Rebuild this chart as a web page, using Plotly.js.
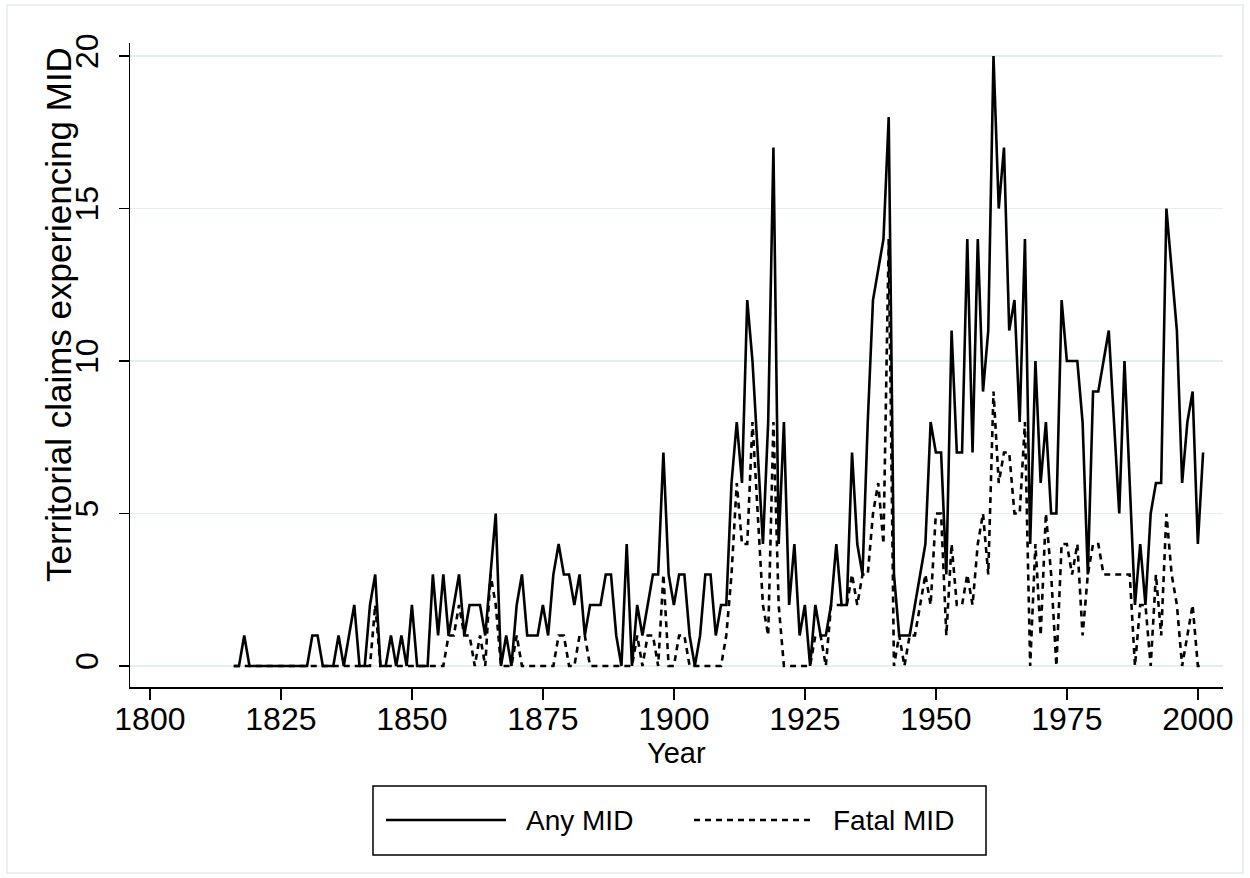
<!DOCTYPE html>
<html>
<head>
<meta charset="utf-8">
<script src="https://cdn.plot.ly/plotly-3.0.1.min.js"></script>
<style>
html,body{margin:0;padding:0;background:#fff;}
#chart{width:1250px;height:878px;}
</style>
</head>
<body>
<div id="chart"></div>
<script>
// ---- data (1816-2001) ----
var startYear = 1816;
var anyMID = [
  0,0,1,0,
  0,0,0,0,0,0,0,0,0,0,
  0,1,1,0,0,0,1,0,1,2,
  0,0,2,3,0,0,1,0,1,0,
  2,0,0,0,3,1,3,1,2,3,
  1,2,2,2,1,3,5,0,1,0,
  2,3,1,1,1,2,1,3,4,3,
  3,2,3,1,2,2,2,3,3,1,
  0,4,0,2,1,2,3,3,7,3,
  2,3,3,1,0,1,3,3,1,2,
  2,6,8,6,12,10,7,4,8,17,
  4,8,2,4,1,2,0,2,1,1,
  2,4,2,2,7,4,3,8,12,13,
  14,18,3,1,1,1,2,3,4,8,
  7,7,3,11,7,7,14,7,14,9,
  11,20,15,17,11,12,8,14,4,10,
  6,8,5,5,12,10,10,10,8,3,
  9,9,10,11,8,5,10,6,2,4,
  2,5,6,6,15,13,11,6,8,9,
  4,7
];
var fatalMID = [
  0,0,0,0,
  0,0,0,0,0,0,0,0,0,0,
  0,0,0,0,0,0,0,0,0,0,
  0,0,0,2,0,0,0,0,0,0,
  0,0,0,0,0,0,0,1,1,2,
  1,1,0,1,0,3,2,0,0,0,
  1,0,0,0,0,0,0,0,1,1,
  0,0,1,1,0,0,0,0,0,0,
  0,0,0,1,0,1,1,0,3,0,
  0,1,1,0,0,0,0,0,0,0,
  1,3,6,4,4,8,5,2,1,8,
  2,0,0,0,0,0,0,1,1,0,
  2,2,2,2,3,2,3,3,5,6,
  4,14,0,1,0,1,1,2,3,2,
  5,5,1,4,2,2,3,2,4,5,
  3,9,6,7,7,5,5,8,0,4,
  1,5,3,0,4,4,3,4,1,3,
  4,4,3,3,3,3,3,3,0,2,
  2,0,3,1,5,3,2,0,1,2,
  0,0
];
var years = anyMID.map(function(_, i){ return startYear + i; });
var xTicks = [1800, 1825, 1850, 1875, 1900, 1925, 1950, 1975, 2000];
var yTicks = [0, 5, 10, 15, 20];
var seriesNames = ["Any MID", "Fatal MID"];
var xTitle = "Year";
var yTitle = "Territorial claims experiencing MID";

// ---- layout helpers (pixel -> paper) ----
var W = 1250, H = 878, ML = 130, MR = 27, MT = 43, MB = 191;
var PW = W - ML - MR, PH = H - MT - MB;
function px(x){ return (x - ML) / PW; }
function py(y){ return (H - MB - y) / PH; }

var FONT = "Liberation Sans, Arial, sans-serif";

var traces = [
  {x: years, y: anyMID, type: "scatter", mode: "lines", name: seriesNames[0],
   line: {color: "#000", width: 2.6}, showlegend: false},
  {x: years, y: fatalMID, type: "scatter", mode: "lines", name: seriesNames[1],
   line: {color: "#000", width: 2.6, dash: "6px,5px"}, showlegend: false}
];

var layout = {
  width: W, height: H,
  margin: {l: ML, r: MR, t: MT, b: MB, pad: 0},
  paper_bgcolor: "#fff", plot_bgcolor: "#fff",
  font: {family: FONT, color: "#000", size: 30},
  showlegend: false,
  xaxis: {
    range: [1796.2, 2004.8], tickvals: xTicks, ticktext: xTicks.map(String),
    ticks: "outside", ticklen: 11, tickwidth: 1.5, tickcolor: "#000",
    ticklabelstandoff: -8,
    showline: true, linecolor: "#000", linewidth: 1.5, mirror: false,
    showgrid: false, zeroline: false,
    tickfont: {family: FONT, size: 32, color: "#000"}
  },
  yaxis: {
    range: [-0.69, 20.43], tickvals: yTicks, ticktext: yTicks.map(String),
    ticks: "outside", ticklen: 10, tickwidth: 1.5, tickcolor: "#000",
    tickangle: -90, ticklabelstandoff: 8,
    showline: true, linecolor: "#000", linewidth: 1.5,
    showgrid: true, gridcolor: "#e3eef0", gridwidth: 1.6, zeroline: false,
    tickfont: {family: FONT, size: 32, color: "#000"}
  },
  annotations: [
    {xref: "paper", yref: "paper", x: px(58), y: py(315), text: yTitle,
     textangle: -90, showarrow: false, xanchor: "center", yanchor: "middle",
     font: {family: FONT, size: 35, color: "#000"}},
    {xref: "paper", yref: "paper", x: px(676), y: py(753), text: xTitle,
     showarrow: false, xanchor: "center", yanchor: "middle",
     font: {family: FONT, size: 29, color: "#000"}},
    {xref: "paper", yref: "paper", x: px(524), y: py(820), text: seriesNames[0],
     showarrow: false, xanchor: "left", yanchor: "middle",
     font: {family: FONT, size: 28, color: "#000"}},
    {xref: "paper", yref: "paper", x: px(831), y: py(820), text: seriesNames[1],
     showarrow: false, xanchor: "left", yanchor: "middle",
     font: {family: FONT, size: 28, color: "#000"}}
  ],
  shapes: [
    {type: "rect", xref: "paper", yref: "paper", x0: px(7), x1: px(1243), y0: py(873), y1: py(5),
     line: {color: "#e3ecee", width: 1.5}, layer: "below"},
    {type: "rect", xref: "paper", yref: "paper", x0: px(373), x1: px(986), y0: py(855), y1: py(786),
     line: {color: "#000", width: 1.5}},
    {type: "line", xref: "paper", yref: "paper", x0: px(386), x1: px(506), y0: py(820), y1: py(820),
     line: {color: "#000", width: 2.6}},
    {type: "line", xref: "paper", yref: "paper", x0: px(694), x1: px(810), y0: py(820), y1: py(820),
     line: {color: "#000", width: 2.6, dash: "6px,5px"}}
  ]
};

Plotly.newPlot("chart", traces, layout, {displayModeBar: false, staticPlot: true});
</script>
</body>
</html>
